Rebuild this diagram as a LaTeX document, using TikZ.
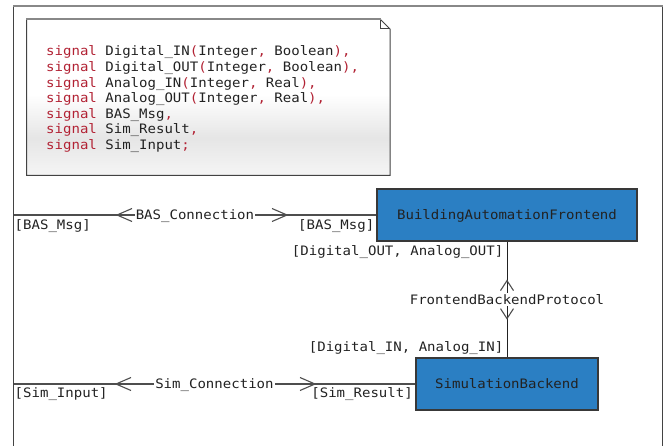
\documentclass[tikz,border=0pt]{standalone}
\usepackage{fontspec}
\newfontfamily\codefont[FakeStretch=1.08]{DejaVu Sans Mono}
\usetikzlibrary{decorations.markings}

\definecolor{kwred}{RGB}{178,34,52}
\definecolor{boxblue}{RGB}{43,127,195}
\definecolor{ink}{RGB}{34,34,34}
\definecolor{wire}{RGB}{78,78,78}
\definecolor{rimgray}{RGB}{136,136,136}

% note background: white above, light grey band low down, paler at the bottom
\pgfdeclareverticalshading{notefade}{100bp}{color(0bp)=(black!4); color(25bp)=(black!4);
  color(37bp)=(black!10); color(51bp)=(white); color(100bp)=(white)}

\newcommand\kw{\textcolor{kwred}{signal}}
\newcommand\pn[1]{\textcolor{kwred}{#1}}

% open chevrons placed along a connector
\newcommand\barbfwd{\draw[wire,line width=1.1pt,line join=miter] (-15pt,-6.5pt) -- (0pt,0pt) -- (-15pt,6.5pt);}
\newcommand\barbback{\draw[wire,line width=1.1pt,line join=miter] (15pt,-6.5pt) -- (0pt,0pt) -- (15pt,6.5pt);}
\newcommand\barbfwdshort{\draw[wire,line width=1.1pt,line join=miter] (-10pt,-6.5pt) -- (0pt,0pt) -- (-10pt,6.5pt);}
\newcommand\barbbackshort{\draw[wire,line width=1.1pt,line join=miter] (10pt,-6.5pt) -- (0pt,0pt) -- (10pt,6.5pt);}

\tikzset{
  txt/.style={font=\codefont\fontsize{13}{15.6}\selectfont, text=ink, inner sep=0pt},
  block/.style={txt, draw=ink!90, line width=1.2pt, fill=boxblue,
    minimum height=52pt, text height=9.5pt, text depth=0pt},
  connlabel/.style={txt, fill=white, inner xsep=1pt, inner ysep=2pt,
    text height=9.5pt, text depth=0pt},
  endlabel/.style={txt},
  wireline/.style={draw=wire, line width=1.2pt},
  codeline/.style={txt, anchor=base west},
}

\begin{document}
\begin{tikzpicture}[x=1pt,y=-1pt]
\useasboundingbox (0,0) rectangle (668,446);

% outer frame (open at the bottom)
\draw[ink!85, line width=1pt] (13.5,446) -- (13.5,6);
\draw[ink!85, line width=1pt] (662.5,6) -- (662.5,446);
\draw[rimgray, line width=2pt] (13,6) -- (663,6);

% note with folded corner
\shade[shading=notefade] (26.5,175.5) -- (26.5,19.5) -- (380.5,19.5) -- (390,29) -- (390,175.5) -- cycle;
\draw[ink!85, line width=1pt] (380.5,19.5) -- (390,29) -- (390,175.5) -- (26.5,175.5) -- (26.5,19.5);
\draw[ink!85, line width=1pt] (380.5,19.5) -- (380.5,29) -- (390,29);
\draw[rimgray, line width=2pt] (26,19.5) -- (380.5,19.5);

\node[codeline] (sig1) at (46,56.0) {\kw{} Digital\_IN\pn{(}Integer\pn{,} Boolean\pn{),}};
\node[codeline] (sig2) at (46,71.6) {\kw{} Digital\_OUT\pn{(}Integer\pn{,} Boolean\pn{),}};
\node[codeline] (sig3) at (46,87.2) {\kw{} Analog\_IN\pn{(}Integer\pn{,} Real\pn{),}};
\node[codeline] (sig4) at (46,102.8) {\kw{} Analog\_OUT\pn{(}Integer\pn{,} Real\pn{),}};
\node[codeline] (sig5) at (46,118.4) {\kw{} BAS\_Msg\pn{,}};
\node[codeline] (sig6) at (46,134.0) {\kw{} Sim\_Result\pn{,}};
\node[codeline] (sig7) at (46,149.6) {\kw{} Sim\_Input\pn{;}};

% blocks
\node[block, minimum width=260pt] (fe) at (507,215) {BuildingAutomationFrontend};
\node[block, minimum width=182pt] (be) at (507,384) {SimulationBackend};

% free ends on the frame
\coordinate (basEnd) at (13.5,215);
\coordinate (simEnd) at (13.5,384);

% connectors
\draw[wireline, postaction={decorate}, decoration={markings,
    mark=at position 103.5pt with {\barbback},
    mark=at position 273.5pt with {\barbfwd}}]
  (basEnd) -- node[connlabel, pos=0.5] (basLbl) {BAS\_Connection} (fe.west);

\draw[wireline, postaction={decorate}, decoration={markings,
    mark=at position 102.5pt with {\barbback},
    mark=at position 301.5pt with {\barbfwd}}]
  (simEnd) -- node[connlabel, pos=0.5] (simLbl) {Sim\_Connection} (be.west);

\draw[wireline, line width=1pt, draw=ink, postaction={decorate}, decoration={markings,
    mark=at position 39pt with {\barbbackshort},
    mark=at position 77pt with {\barbfwdshort}}]
  (fe.south) -- node[connlabel, pos=0.5] (fbLbl) {FrontendBackendProtocol} (be.north);

% end labels
\node[endlabel, anchor=west] (basL) at (14.5,225.7) {[BAS\_Msg]};
\node[endlabel, anchor=east] (basR) at (374.5,225.7) {[BAS\_Msg]};
\node[endlabel, anchor=east] (feOut) at (503.5,251.7) {[Digital\_OUT, Analog\_OUT]};
\node[endlabel, anchor=east] (beIn) at (503.5,348.3) {[Digital\_IN, Analog\_IN]};
\node[endlabel, anchor=west] (simL) at (14.5,394.3) {[Sim\_Input]};
\node[endlabel, anchor=east] (simR) at (413,394.3) {[Sim\_Result]};
\end{tikzpicture}
\end{document}
